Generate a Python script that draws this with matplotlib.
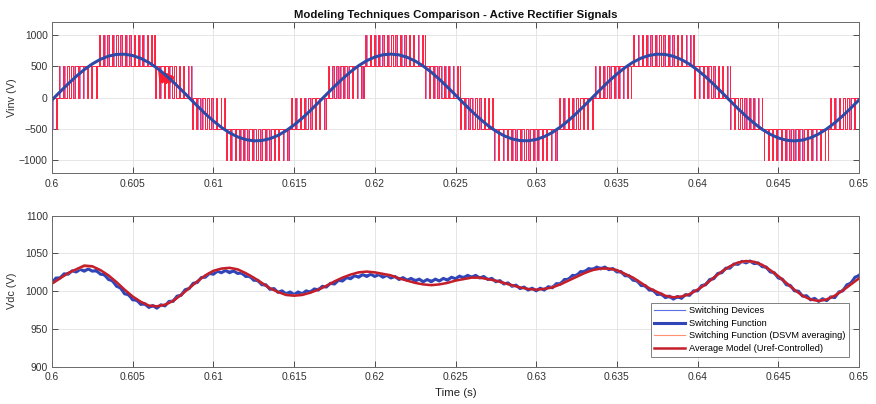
import numpy as np
import matplotlib
matplotlib.use("Agg")
import matplotlib.pyplot as plt

# ---------------- data ----------------
t_start, t_end = 0.6, 0.65

# fundamental inverter voltage (average model), sampled every 0.5 ms
vinv_avg = [-39, 91, 217, 336, 443, 534, 607, 658, 685, 688,
            667, 622, 556, 469, 366, 250, 125, -4, -134, -258,
            -373, -475, -561, -626, -669, -689, -684, -655, -603, -529,
            -436, -329, -209, -82, 48, 176, 298, 409, 506, 585,
            643, 679, 690, 677, 640, 580, 500, 402, 290, 167,
            39, -91, -217, -336, -443, -534, -607, -658, -685, -688,
            -667, -622, -556, -469, -366, -250, -125, 4, 134, 258,
            373, 475, 561, 626, 669, 689, 684, 655, 603, 529,
            436, 329, 209, 82, -48, -176, -298, -409, -506, -585,
            -643, -679, -690, -677, -640, -580, -500, -402, -290, -167,
            -39]

# switching bands of the multilevel inverter voltage
seg_start = [0.6000, 0.6003, 0.6028, 0.6064, 0.6087, 0.6108, 0.6147, 0.6170,
             0.6193, 0.6231, 0.6253, 0.6274, 0.6313, 0.6335, 0.6359, 0.6398,
             0.6420, 0.6441, 0.6481]
seg_end = seg_start[1:] + [0.6500]
seg_low = [-500, 0, 500, 0, -500, -1000, -500, 0,
           500, 0, -500, -1000, -500, 0, 500, 0,
           -500, -1000, -500]
band_step = 500

# fast switching burst near 0.607 s
blob_t = [0.60665, 0.60672, 0.60678, 0.60684, 0.60690, 0.60696, 0.60702, 0.60708,
          0.60714, 0.60720, 0.60726, 0.60732, 0.60738, 0.60744, 0.60750]
blob_v = [420, 250, 400, 240, 390, 260, 380, 230, 370, 250, 350, 240, 340, 260, 320]

# DC-link voltage, every 0.5 ms
vdc_avg = [1010, 1017, 1024, 1029, 1034, 1033, 1028, 1021, 1012, 1002,
           993, 986, 981, 980, 982, 987, 995, 1004, 1013, 1021,
           1027, 1030, 1031, 1029, 1024, 1018, 1011, 1004, 999, 995,
           994, 995, 998, 1002, 1007, 1013, 1018, 1022, 1025, 1026,
           1025, 1023, 1021, 1017, 1014, 1011, 1009, 1008, 1009, 1011,
           1014, 1016, 1018, 1018, 1016, 1014, 1011, 1008, 1005, 1003,
           1002, 1003, 1005, 1009, 1014, 1019, 1024, 1028, 1030, 1030,
           1028, 1023, 1018, 1011, 1004, 999, 994, 992, 993, 996,
           1002, 1009, 1018, 1026, 1033, 1038, 1040, 1039, 1035, 1028,
           1020, 1011, 1002, 994, 989, 987, 989, 994, 1001, 1009,
           1017]

vdc_dsvm = [1011, 1017, 1023, 1028, 1032, 1032, 1028, 1020, 1011, 1002,
            993, 986, 981, 980, 983, 988, 996, 1004, 1012, 1020,
            1026, 1029, 1030, 1028, 1023, 1017, 1010, 1004, 999, 996,
            995, 996, 998, 1002, 1008, 1013, 1018, 1022, 1024, 1025,
            1024, 1022, 1020, 1017, 1014, 1011, 1009, 1009, 1009, 1011,
            1014, 1016, 1017, 1017, 1016, 1013, 1010, 1007, 1005, 1003,
            1002, 1003, 1006, 1010, 1015, 1020, 1024, 1028, 1029, 1029,
            1027, 1022, 1017, 1010, 1004, 998, 994, 992, 993, 997,
            1003, 1010, 1018, 1026, 1032, 1037, 1039, 1038, 1034, 1027,
            1019, 1010, 1002, 994, 989, 988, 990, 995, 1002, 1010,
            1018]

vdc_sd = [1014, 1019, 1025, 1027, 1029, 1027, 1023, 1016, 1007, 997,
          989, 983, 979, 979, 983, 989, 997, 1005, 1014, 1020,
          1025, 1026, 1027, 1024, 1020, 1015, 1009, 1003, 999, 997,
          996, 998, 1001, 1004, 1008, 1012, 1016, 1019, 1021, 1022,
          1021, 1021, 1019, 1018, 1016, 1016, 1014, 1015, 1015, 1017,
          1018, 1020, 1020, 1019, 1016, 1013, 1010, 1007, 1005, 1003,
          1002, 1004, 1007, 1012, 1018, 1023, 1028, 1031, 1032, 1030,
          1026, 1021, 1015, 1008, 1002, 996, 992, 990, 991, 997,
          1003, 1011, 1019, 1027, 1033, 1038, 1039, 1037, 1033, 1026,
          1018, 1009, 1001, 994, 989, 987, 988, 994, 1003, 1013,
          1023]

# switching function (with ripple), every 0.25 ms
vdc_sf = [1011.5, 1017.5, 1017.5, 1023, 1022.5, 1027, 1025.5, 1029, 1026.5, 1029.5,
          1026.5, 1027.5, 1022.5, 1022, 1015.5, 1014, 1006.5, 1004.5, 996.5, 995.5,
          988.5, 988.5, 982.5, 983.5, 978.5, 981, 977.5, 982, 980.5, 986.5,
          986.5, 993.5, 994.5, 1002, 1003.5, 1010.5, 1011.5, 1018, 1018.5, 1023.5,
          1022.5, 1026.5, 1024.5, 1027.5, 1024.5, 1027, 1023.5, 1024.5, 1019.5, 1020,
          1014.5, 1014.5, 1008.5, 1008.5, 1002.5, 1003.5, 998.5, 1000.5, 996.5, 999,
          995.5, 999, 996.5, 1000.5, 998.5, 1003, 1001.5, 1006.5, 1005.5, 1010.5,
          1009.5, 1014.5, 1013.5, 1018, 1016.5, 1020.5, 1018.5, 1022, 1019.5, 1022.5,
          1019.5, 1022, 1018.5, 1021, 1017.5, 1019.5, 1015.5, 1018, 1014.5, 1017,
          1013.5, 1016, 1012.5, 1015.5, 1012.5, 1016, 1013.5, 1017, 1014.5, 1018.5,
          1016.5, 1020, 1017.5, 1021, 1018.5, 1021, 1017.5, 1019.5, 1015.5, 1017,
          1012.5, 1014, 1009.5, 1011, 1006.5, 1008, 1003.5, 1005.5, 1001.5, 1004,
          1000.5, 1004, 1001.5, 1006, 1004.5, 1010, 1009.5, 1015.5, 1015.5, 1021,
          1020.5, 1026, 1025.5, 1030, 1028.5, 1032, 1029.5, 1032, 1028.5, 1030,
          1025.5, 1026, 1020.5, 1020.5, 1014.5, 1014, 1007.5, 1007.5, 1001.5, 1001.5,
          995.5, 996.5, 991.5, 993.5, 989.5, 993, 990.5, 995.5, 994.5, 1000.5,
          1000.5, 1007.5, 1008.5, 1015.5, 1016.5, 1023.5, 1024.5, 1030.5, 1030.5, 1036,
          1035.5, 1039.5, 1037.5, 1040, 1036.5, 1037.5, 1032.5, 1032, 1025.5, 1024.5,
          1017.5, 1016, 1008.5, 1007.5, 1000.5, 1000, 993.5, 994, 988.5, 990.5,
          986.5, 990, 987.5, 992.5, 991.5, 999, 1000.5, 1008.5, 1010.5, 1018.5,
          1020.5]

xticks = [0.6, 0.605, 0.61, 0.615, 0.62, 0.625, 0.63, 0.635, 0.64, 0.645, 0.65]
xtick_labels = ['0.6', '0.605', '0.61', '0.615', '0.62', '0.625', '0.63',
                '0.635', '0.64', '0.645', '0.65']
yticks_top = [-1000, -500, 0, 500, 1000]
yticks_bot = [900, 950, 1000, 1050, 1100]

legend_labels = ['Switching Devices', 'Switching Function',
                 'Switching Function (DSVM averaging)',
                 'Average Model (Uref-Controlled)']

title = 'Modeling Techniques Comparison - Active Rectifier Signals'

# ---------------- drawing ----------------
plt.rcParams['font.family'] = ['Liberation Sans', 'DejaVu Sans']

t_ref = np.linspace(t_start, t_end, len(vinv_avg))
t_dc = np.linspace(t_start, t_end, len(vdc_avg))
t_sf = np.linspace(t_start, t_end, len(vdc_sf))


def pwm_trace(tc, offset, dmin=0.1, dmax=0.9):
    ts, vs = [], []
    for s, e, lo in zip(seg_start, seg_end, seg_low):
        hi = lo + band_step
        ts.append(s)
        vs.append(lo)
        c = s + offset
        while c < e:
            c2 = min(c + tc, e)
            m = 0.5 * (c + c2)
            d = np.clip((np.interp(m, t_ref, vinv_avg) - lo) / band_step, dmin, dmax)
            h = d * (c2 - c) / 2
            ts += [m - h, m - h, m + h, m + h]
            vs += [lo, hi, hi, lo]
            c = c2
        ts.append(e)
        vs.append(lo)
    return ts, vs


fig = plt.figure(figsize=(8.76, 4.04), dpi=100)
W, H = 876.0, 404.0
ax1 = fig.add_axes([52 / W, 1 - 173 / H, 807 / W, 151 / H])
ax2 = fig.add_axes([52 / W, 1 - 366.7 / H, 807 / W, 151 / H])

spine_col = '#6a6a6a'
for ax in (ax1, ax2):
    ax.set_xlim(t_start, t_end)
    ax.set_xticks(xticks)
    ax.set_xticklabels(xtick_labels)
    ax.grid(True, color='#e2e2e2', lw=0.6)
    ax.set_axisbelow(True)
    ax.tick_params(direction='in', top=True, right=True, length=4, width=0.6,
                   labelsize=7.4, colors='#333333', pad=4)
    ax.tick_params(axis='y', pad=3)
    for sp in ax.spines.values():
        sp.set_color(spine_col)
        sp.set_linewidth(0.7)

# top panel
ts, vs = pwm_trace(0.00027, 0.00003)
ax1.plot(ts, vs, color='#b26ad6', lw=0.6)
ts, vs = pwm_trace(0.00027, 0.0)
ax1.plot(ts, vs, color='#ff2440', lw=0.7)
ax1.plot(blob_t, blob_v, color='#ff1a30', lw=1.6)
ax1.plot(t_ref, vinv_avg, color='#2e4aa8', lw=2.2)
ax1.set_ylim(-1200, 1200)
ax1.set_yticks(yticks_top)
ax1.set_ylabel('Vinv (V)', fontsize=7.8, color='#333333')
ax1.yaxis.set_label_coords(-35 / 807, 0.5)
ax1.set_title(title, fontsize=8.2, fontweight='bold', pad=3, color='#111111')

# bottom panel
ax2.plot(t_dc, vdc_sd, color='#5b6ee8', lw=0.8, label=legend_labels[0])
ax2.plot(t_sf, vdc_sf, color='#3046b8', lw=2.2, label=legend_labels[1])
ax2.plot(t_dc, vdc_dsvm, color='#ff9070', lw=0.8, label=legend_labels[2])
ax2.plot(t_dc, vdc_avg, color='#c41e2a', lw=1.8, label=legend_labels[3])
ax2.set_ylim(900, 1100)
ax2.set_yticks(yticks_bot)
ax2.set_ylabel('Vdc (V)', fontsize=7.8, color='#333333')
ax2.yaxis.set_label_coords(-35 / 807, 0.5)
ax2.set_xlabel('Time (s)', fontsize=8.2, color='#222222', labelpad=4)

leg = ax2.legend(loc='lower right', bbox_to_anchor=(1 - 10 / 807, 10 / 151),
                 fontsize=6.7, frameon=True, fancybox=False, framealpha=1,
                 edgecolor='#808080', handlelength=3.3, handletextpad=0.4,
                 labelspacing=0.38, borderpad=0.4, borderaxespad=0)
leg.get_frame().set_linewidth(0.7)

fig.savefig('out.png', dpi=100)
